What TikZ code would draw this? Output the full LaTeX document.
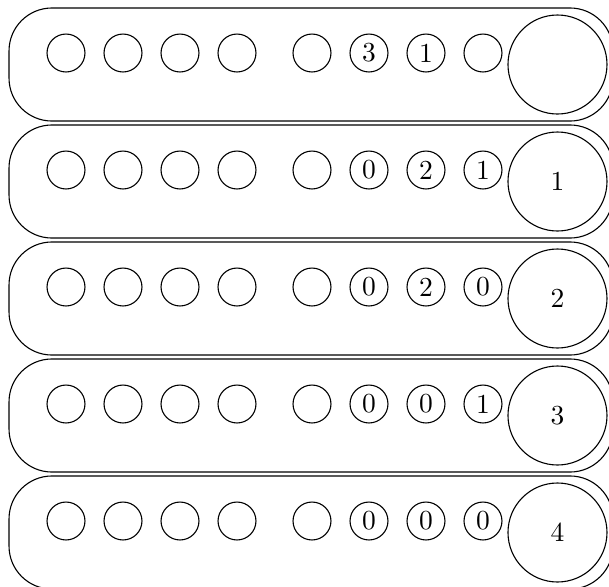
\documentclass[tikz,border=0pt]{standalone}
\begin{document}
\begin{tikzpicture}[x=0.3636pt,y=-0.3636pt,
  rowbox/.style={draw, rectangle, rounded corners=15.6pt, minimum width=219.6pt, minimum height=41.1pt, inner sep=0pt},
  slot/.style={draw, circle, minimum size=13.8pt, inner sep=0pt},
  bigslot/.style={draw, circle, minimum size=36pt, inner sep=0pt}]
\useasboundingbox (0,0) rectangle (609,587);
\foreach \r/\a/\b/\c/\d/\big in {0/{}/3/1/{}/{}, 1/{}/0/2/1/1, 2/{}/0/2/0/2, 3/{}/0/0/1/3, 4/{}/0/0/0/4} {
  \pgfmathsetmacro\ytop{8+117*\r}
  \node[rowbox] (row\r) at (311, \ytop+56.5) {};
  \foreach \x [count=\k] in {66,123,180,237}
    \node[slot] (e\r-\k) at (\x, \ytop+45) {};
  \node[slot] (s\r-1) at (312, \ytop+45) {\a};
  \node[slot] (s\r-2) at (369, \ytop+45) {\b};
  \node[slot] (s\r-3) at (426, \ytop+45) {\c};
  \node[slot] (s\r-4) at (483, \ytop+45) {\d};
  \node[bigslot] (big\r) at (557.5, \ytop+56.5) {\big};
}
\end{tikzpicture}
\end{document}
